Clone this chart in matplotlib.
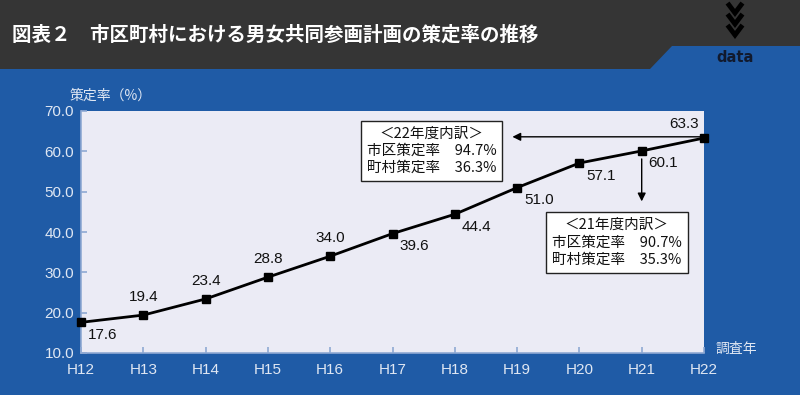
import matplotlib
matplotlib.use("Agg")
import matplotlib.pyplot as plt
from matplotlib.patches import Rectangle, Polygon
from matplotlib.lines import Line2D

plt.rcParams['font.family'] = ['Noto Sans CJK JP', 'DejaVu Sans']

# data
years = ["H12", "H13", "H14", "H15", "H16", "H17", "H18", "H19", "H20", "H21", "H22"]
rates = [17.6, 19.4, 23.4, 28.8, 34.0, 39.6, 44.4, 51.0, 57.1, 60.1, 63.3]
# label placement: 'a' above, 'b' below-right, 'l' above-left
label_pos = ['b', 'a', 'a', 'a', 'a', 'b', 'b', 'b', 'b', 'b', 'l']
yticks = [10.0, 20.0, 30.0, 40.0, 50.0, 60.0, 70.0]

title = "図表２　市区町村における男女共同参画計画の策定率の推移"
box22 = "＜22年度内訳＞\n市区策定率　94.7%\n町村策定率　36.3%"
box21 = "＜21年度内訳＞\n市区策定率　90.7%\n町村策定率　35.3%"

W, H = 800, 395
BLUE = '#1f5ba6'
DARK = '#353535'
LIGHT = '#dfe7f3'
NUM = ['Liberation Sans', 'DejaVu Sans']

fig = plt.figure(figsize=(W / 100, H / 100), dpi=100, facecolor=BLUE)


def fx(px):
    return px / W


def fy(py):
    return 1 - py / H


# header bar
fig.patches.append(Rectangle((0, fy(69)), 1, 69 / H, transform=fig.transFigure,
                             facecolor=DARK, edgecolor='none', zorder=0))
fig.patches.append(Polygon([(fx(650), fy(69)), (fx(672), fy(46)), (1, fy(46)), (1, fy(69))],
                           closed=True, transform=fig.transFigure,
                           facecolor=BLUE, edgecolor='none', zorder=1))
fig.text(fx(12), fy(35), title, color='white', fontsize=14, fontweight='bold',
         va='center', ha='left')
fig.text(fx(735), fy(57), "data", color='#111a2e', fontsize=10.5, fontweight='bold',
         va='center', ha='center', family=['Liberation Sans Narrow', 'DejaVu Sans'])
# chevrons
for cy in [10, 21, 32]:
    fig.lines.append(Line2D([fx(729), fx(735), fx(741)], [fy(cy - 5), fy(cy + 3), fy(cy - 5)],
                            transform=fig.transFigure, color='black', lw=3.5,
                            solid_joinstyle='miter'))

ax = fig.add_axes([fx(81), fy(353), fx(704) - fx(81), fy(111) - fy(353)])
ax.set_facecolor('#ebebf5')
x = list(range(len(years)))
ax.plot(x, rates, color='black', lw=2, marker='s', markersize=6, zorder=5, clip_on=False)

for xi, v, p in zip(x, rates, label_pos):
    if p == 'a':
        ax.annotate(f"{v:.1f}", (xi, v), xytext=(0, 8), textcoords='offset points',
                    ha='center', va='bottom', fontsize=11, color='#111111', family=NUM)
    elif p == 'b':
        ax.annotate(f"{v:.1f}", (xi, v), xytext=(5, -4), textcoords='offset points',
                    ha='left', va='top', fontsize=11, color='#111111', family=NUM)
    else:
        ax.annotate(f"{v:.1f}", (xi, v), xytext=(-4, 5), textcoords='offset points',
                    ha='right', va='bottom', fontsize=11, color='#111111', family=NUM)

ax.set_xlim(0, len(years) - 1)
ax.set_ylim(10, 70)
ax.set_xticks(x)
ax.set_xticklabels(years)
ax.set_yticks(yticks)
ax.set_yticklabels([f"{t:.1f}" for t in yticks])
ax.tick_params(direction='in', colors='#8fa9d3', labelcolor=LIGHT, length=4,
               labelsize=11, width=1.2)
ax.tick_params(axis='x', pad=7)
ax.tick_params(axis='y', pad=5)
for lab in ax.get_xticklabels() + ax.get_yticklabels():
    lab.set_family(NUM)
for s in ['top', 'right']:
    ax.spines[s].set_visible(False)
for s in ['left', 'bottom']:
    ax.spines[s].set_color('#8fa9d3')
    ax.spines[s].set_linewidth(1.2)

# annotation boxes and arrows
ax.annotate("", xy=(6.88, 63.6), xytext=(10, 63.6),
            arrowprops=dict(arrowstyle='-|>', color='black', lw=1, mutation_scale=12))
ax.text(5.63, 60.1, box22, ha='center', va='center', fontsize=10.5, linespacing=1.3,
        color='#111111', bbox=dict(boxstyle='square,pad=0.4', facecolor='white',
                                   edgecolor='#222222', lw=1))
ax.annotate("", xy=(9, 46.9), xytext=(9, 58.8),
            arrowprops=dict(arrowstyle='-|>', color='black', lw=1, mutation_scale=12))
ax.text(8.6, 37.4, box21, ha='center', va='center', fontsize=10.5, linespacing=1.3,
        color='#111111', bbox=dict(boxstyle='square,pad=0.4', facecolor='white',
                                   edgecolor='#222222', lw=1))

fig.text(fx(111), fy(96), "策定率（%）", color=LIGHT, fontsize=10, ha='center', va='center')
fig.text(fx(736), fy(349), "調査年", color=LIGHT, fontsize=10, ha='center', va='center')

fig.savefig("out.png", dpi=100, facecolor=BLUE)
